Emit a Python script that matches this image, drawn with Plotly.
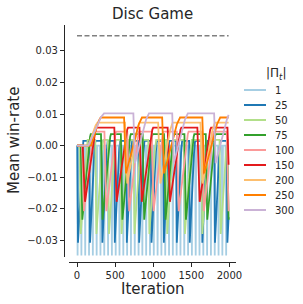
import plotly.graph_objects as go
import numpy as np

# ---------------- data ----------------
END_ITER = 1990
SIZES = ["1", "25", "50", "75", "100", "150", "200", "250", "300"]
COLORS = ["#a6cee3", "#1f78b4", "#b2df8a", "#33a02c", "#fb9a99",
          "#e31a1c", "#fdbf6f", "#ff7f00", "#cab2d6"]

# iterations at which each curve starts dropping
DROPS_1 = [0, 50, 100, 150, 200, 250, 300, 350, 400, 450, 500, 550, 600, 650,
           700, 750, 800, 850, 900, 950, 1000, 1050, 1100, 1150, 1200, 1250,
           1300, 1350, 1400, 1450, 1500, 1550, 1600, 1650, 1700, 1750, 1800,
           1850, 1900, 1950]
DROPS_25 = [5, 163, 325, 488, 646, 808, 970, 1132, 1302, 1472, 1637, 1803, 1966]
DROPS_50 = [34, 240, 405, 570, 740, 935, 1169, 1402, 1630, 1871]
DROPS_75 = [50, 315, 576, 862, 1142, 1410, 1690, 1970]
DROPS_100 = [67, 360, 660, 980, 1310, 1640, 1965]
DROPS_150 = [75, 490, 820, 1190, 1580, 1975]
DROPS_200 = [630, 1065, 1620]
DROPS_250 = [618, 1118, 1645]
DROPS_300 = [740, 1250, 1800]

MINS = [-0.0348, -0.0308, -0.0280, -0.0235, -0.0208, -0.0178, -0.0120, -0.0088, -0.0056]
PEAKS = [0.0, 0.0015, 0.0018, 0.0036, 0.0044, 0.0057, 0.0073, 0.0089, 0.0102]
DOWN_LEN = [8, 8, 15, 20, 25, 30, 30, 25, 20]
UP_LEN = [8, 70, 90, 110, 130, 150, 160, 210, 185]
INIT_RISE_START = [None, None, None, None, None, None, 150, 185, 150]
INIT_RISE_END = [None, None, None, None, None, None, 268, 311, 355]

OPTIMUM = 0.0348

X_TICKS = [0, 500, 1000, 1500, 2000]
Y_TICKS = [-0.03, -0.02, -0.01, 0.0, 0.01, 0.02, 0.03]

ALL_DROPS = [DROPS_1, DROPS_25, DROPS_50, DROPS_75, DROPS_100,
             DROPS_150, DROPS_200, DROPS_250, DROPS_300]


def rise(xs, ys, t0, y0, dur, peak):
    span = peak - y0
    xs += [t0 + 0.8 * dur, t0 + 0.92 * dur, t0 + dur]
    ys += [peak - 0.12 * span, peak - 0.03 * span, peak]


def build(drops, mn, pk, down, up, r0, r1):
    xs, ys = [0.0], [0.0]
    level = 0.0
    if r0 is not None:
        xs.append(r0); ys.append(0.0)
        rise(xs, ys, r0, 0.0, r1 - r0, pk)
        level = pk
    for d in drops:
        xs.append(d); ys.append(level)
        xs.append(d + down); ys.append(mn)
        rise(xs, ys, d + down, mn, up, pk)
        level = pk
    xs = np.array(xs, dtype=float)
    ys = np.array(ys, dtype=float)
    if xs[-1] < END_ITER:
        xs = np.append(xs, END_ITER); ys = np.append(ys, ys[-1])
    keep = xs <= END_ITER
    end_val = np.interp(END_ITER, xs, ys)
    xs = np.append(xs[keep], END_ITER)
    ys = np.append(ys[keep], end_val)
    return xs, ys


fig = go.Figure()

for i, name in enumerate(SIZES):
    x, y = build(ALL_DROPS[i], MINS[i], PEAKS[i], DOWN_LEN[i], UP_LEN[i],
                 INIT_RISE_START[i], INIT_RISE_END[i])
    fig.add_trace(go.Scatter(x=x, y=y, mode="lines", name=name,
                             line=dict(color=COLORS[i], width=1.8),
                             showlegend=False))

fig.add_trace(go.Scatter(x=[0, END_ITER], y=[OPTIMUM, OPTIMUM], mode="lines",
                         line=dict(color="#808080", width=1.5, dash="5px,2.5px"),
                         showlegend=False))

# ---------------- layout ----------------
W, H = 303, 304
L, R, T, B = 64, 236, 25, 262          # paper box in pixels


def px_x(p):
    return (p - L) / (R - L)


def px_y(p):
    return (B - p) / (B - T)


TXT = "#262626"
FONT = "DejaVu Sans"

fig.update_layout(
    width=W, height=H,
    margin=dict(l=L, r=W - R, t=T, b=H - B, pad=0),
    paper_bgcolor="white", plot_bgcolor="white",
    font=dict(family=FONT, color=TXT, size=10),
    showlegend=False,
    xaxis=dict(domain=[px_x(69.3), 1], anchor="free", position=0,
               range=[-101, 2087], tickvals=X_TICKS,
               showline=True, linecolor=TXT, linewidth=1.25,
               ticks="outside", ticklen=4, tickwidth=1.25, tickcolor=TXT,
               showgrid=False, zeroline=False,
               tickfont=dict(family=FONT, size=10, color=TXT)),
    yaxis=dict(domain=[px_y(256.7), 1], anchor="free", position=0,
               range=[-0.0352, 0.0382], tickvals=Y_TICKS, tickformat=".2f",
               showline=True, linecolor=TXT, linewidth=1.25,
               ticks="outside", ticklen=4, tickwidth=1.25, tickcolor=TXT,
               showgrid=False, zeroline=False,
               tickfont=dict(family=FONT, size=10, color=TXT)),
)

ann = []
ann.append(dict(text="Disc Game", x=px_x(152.5), y=px_y(14), xref="paper", yref="paper",
                showarrow=False, xanchor="center", yanchor="middle",
                font=dict(family=FONT, size=15, color=TXT)))
ann.append(dict(text="Mean win-rate", x=px_x(14), y=px_y(141), xref="paper", yref="paper",
                showarrow=False, xanchor="center", yanchor="middle", textangle=-90,
                font=dict(family=FONT, size=15, color=TXT)))
ann.append(dict(text="Iteration", x=px_x(152.5), y=px_y(288.5), xref="paper", yref="paper",
                showarrow=False, xanchor="center", yanchor="middle",
                font=dict(family=FONT, size=15, color=TXT)))
ann.append(dict(text="|Π<sub><i>t</i></sub>|", x=px_x(276), y=px_y(74), xref="paper", yref="paper",
                showarrow=False, xanchor="center", yanchor="middle",
                font=dict(family=FONT, size=12, color=TXT)))

shapes = []
for i, name in enumerate(SIZES):
    yy = px_y(90 + 15 * i)
    shapes.append(dict(type="line", xref="paper", yref="paper",
                       x0=px_x(244), x1=px_x(266), y0=yy, y1=yy,
                       line=dict(color=COLORS[i], width=2)))
    ann.append(dict(text=name, x=px_x(273), y=yy, xref="paper", yref="paper",
                    showarrow=False, xanchor="left", yanchor="middle",
                    font=dict(family=FONT, size=10, color=TXT)))

fig.update_layout(annotations=ann, shapes=shapes)

fig.write_html("out.html", config={"displayModeBar": False},
               post_script="document.body.style.margin='0px';document.body.style.overflow='hidden';")
